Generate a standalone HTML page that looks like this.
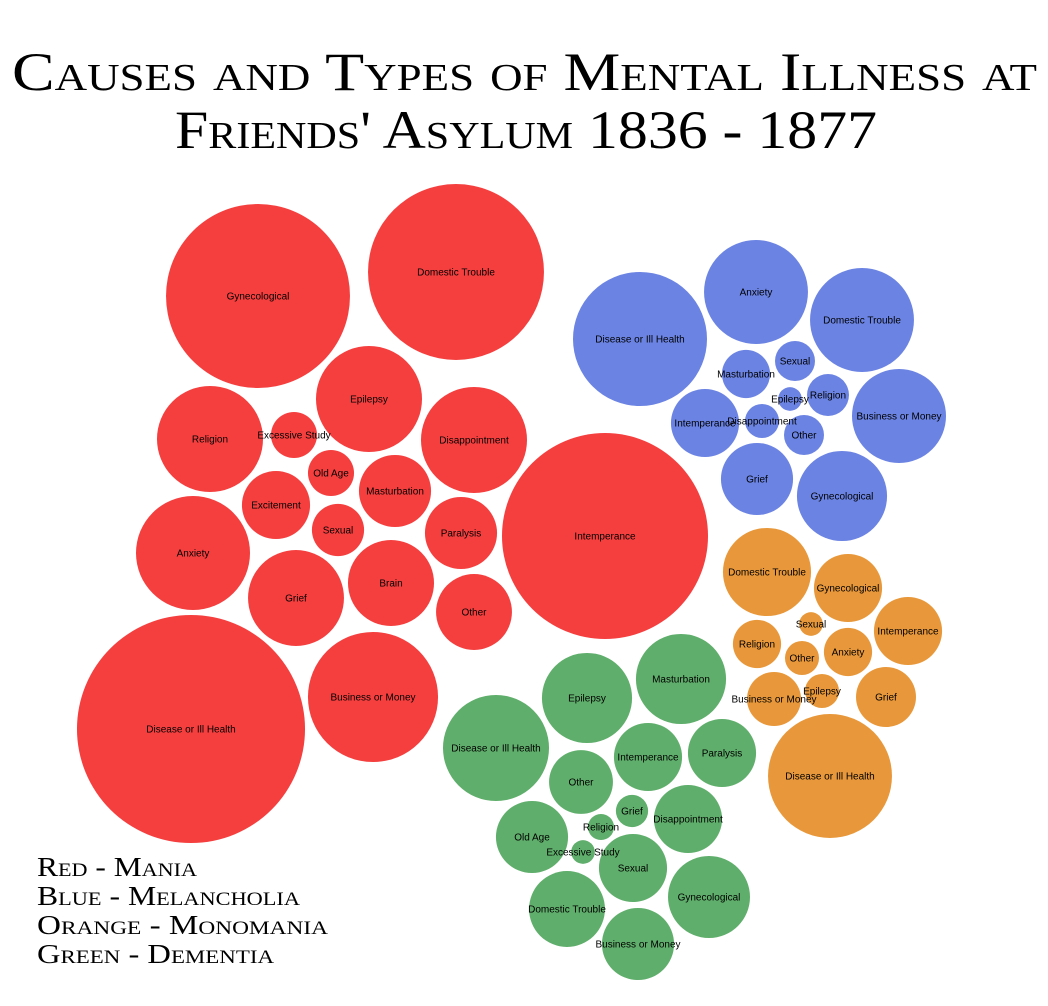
<!DOCTYPE html>
<html><head><meta charset="utf-8"><style>
html,body{margin:0;padding:0;background:#fff;}
svg{display:block;}
.t{font-family:"Liberation Serif",serif;font-variant:small-caps;fill:#000;}
.lbl{font-family:"Liberation Sans",sans-serif;font-size:10px;fill:#000;text-anchor:middle;dominant-baseline:central;}
</style></head><body>
<svg id="chart" width="1048" height="1006" viewBox="0 0 1048 1006">
<text class="t" x="12" y="90" font-size="54" textLength="1025" lengthAdjust="spacingAndGlyphs">Causes and Types of Mental Illness at</text>
<text class="t" x="175" y="148" font-size="54" textLength="702" lengthAdjust="spacingAndGlyphs">Friends' Asylum 1836 - 1877</text>
<g id="bubbles"></g>
<text class="t" x="37" y="876" font-size="27" textLength="160" lengthAdjust="spacingAndGlyphs">Red - Mania</text>
<text class="t" x="37" y="905" font-size="27" textLength="263" lengthAdjust="spacingAndGlyphs">Blue - Melancholia</text>
<text class="t" x="37" y="934" font-size="27" textLength="291" lengthAdjust="spacingAndGlyphs">Orange - Monomania</text>
<text class="t" x="37" y="963" font-size="27" textLength="237" lengthAdjust="spacingAndGlyphs">Green - Dementia</text>
</svg>
<script>
// Mania (red)
const maniaCauses = ["Gynecological","Domestic Trouble","Intemperance","Disease or Ill Health","Business or Money","Religion","Anxiety","Epilepsy","Disappointment","Excessive Study","Old Age","Excitement","Masturbation","Sexual","Paralysis","Grief","Brain","Other"];
const maniaValues = [84.6,77.4,106.1,130,42.3,28.1,32.5,28.1,28.1,5.3,5.3,11.6,13,6.8,13,23,18.5,14.4];
const maniaX = [258,456,605,191,373,210,193,369,474,294,331,276,395,338,461,296,391,474];
const maniaY = [296,272,536,729,697,439,553,399,440,435,473,505,491,530,533,598,583,612];
// Melancholia (blue)
const melCauses = ["Disease or Ill Health","Anxiety","Domestic Trouble","Sexual","Masturbation","Epilepsy","Religion","Business or Money","Intemperance","Disappointment","Other","Grief","Gynecological"];
const melValues = [44.9,27,27,4,5.8,1.4,4.4,22.1,11.6,2.9,4,13,20.3];
const melX = [640,756,862,795,746,790,828,899,705,762,804,757,842];
const melY = [339,292,320,361,374,399,395,416,423,421,435,479,496];
// Monomania (orange)
const monoCauses = ["Domestic Trouble","Gynecological","Sexual","Intemperance","Religion","Other","Anxiety","Business or Money","Epilepsy","Grief","Disease or Ill Health"];
const monoValues = [19.4,11.6,1.4,11.6,5.8,2.9,5.8,7.3,2.9,9,38.4];
const monoX = [767,848,811,908,757,802,848,774,822,886,830];
const monoY = [572,588,624,631,644,658,652,699,691,697,776];
// Dementia (green)
const demCauses = ["Epilepsy","Masturbation","Disease or Ill Health","Intemperance","Paralysis","Other","Grief","Disappointment","Religion","Old Age","Excessive Study","Sexual","Gynecological","Domestic Trouble","Business or Money"];
const demValues = [20.3,20.3,28.1,11.6,11.6,10.2,2.6,11.6,1.7,13,1.4,11.6,16.8,14.4,13];
const demX = [587,681,496,648,722,581,632,688,601,532,583,633,709,567,638];
const demY = [698,679,748,757,753,782,811,819,827,837,852,868,897,909,944];

const NS = "http://www.w3.org/2000/svg";
const g = document.getElementById("bubbles");
function rScale(v){ return 10*Math.sqrt(v); }
function drawGroup(group, cats, vals, xs, ys, color){
  for(let i=0;i<cats.length;i++){
    const c=document.createElementNS(NS,"circle");
    c.setAttribute("cx",xs[i]); c.setAttribute("cy",ys[i]);
    c.setAttribute("r",rScale(vals[i])); c.setAttribute("fill",color);
    
    
    g.appendChild(c);
  }
  for(let i=0;i<cats.length;i++){
    const t=document.createElementNS(NS,"text");
    t.setAttribute("x",xs[i]); t.setAttribute("y",ys[i]+1);
    t.setAttribute("class","lbl"); t.textContent=cats[i];
    
    
    g.appendChild(t);
  }
}
drawGroup("mania",maniaCauses,maniaValues,maniaX,maniaY,"#f53f3f");
drawGroup("melancholia",melCauses,melValues,melX,melY,"#6b83e3");
drawGroup("monomania",monoCauses,monoValues,monoX,monoY,"#e8983a");
drawGroup("dementia",demCauses,demValues,demX,demY,"#5fae6b");
</script>
</body></html>
